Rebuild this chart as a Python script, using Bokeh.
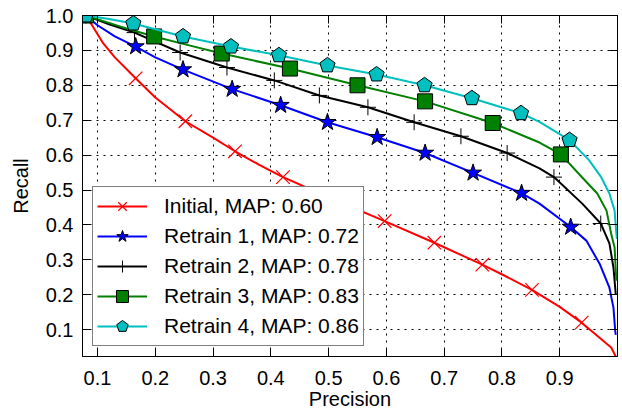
from bokeh.plotting import figure
from bokeh.models import Range1d, LinearAxis, FixedTicker, Legend, LegendItem
from bokeh.embed import file_html
from bokeh.resources import INLINE

# ---- data (precision, recall) ----
x_ticks = [0.1, 0.2, 0.3, 0.4, 0.5, 0.6, 0.7, 0.8, 0.9]
x_tick_labels = ["0.1", "0.2", "0.3", "0.4", "0.5", "0.6", "0.7", "0.8", "0.9"]
y_ticks = [0.1, 0.2, 0.3, 0.4, 0.5, 0.6, 0.7, 0.8, 0.9, 1.0]
y_tick_labels = ["0.1", "0.2", "0.3", "0.4", "0.5", "0.6", "0.7", "0.8", "0.9", "1.0"]

series_labels = ["Initial, MAP: 0.60", "Retrain 1, MAP: 0.72", "Retrain 2, MAP: 0.78",
                 "Retrain 3, MAP: 0.83", "Retrain 4, MAP: 0.86"]

init_p = [0.08, 0.095, 0.11, 0.13, 0.166, 0.2, 0.252, 0.3, 0.338, 0.38, 0.421, 0.51, 0.597,
          0.683, 0.766, 0.81, 0.852, 0.9, 0.938, 0.969, 0.989, 0.998]
init_r = [1.0, 0.96, 0.92, 0.88, 0.82, 0.765, 0.697, 0.65, 0.611, 0.572, 0.537, 0.472, 0.411,
          0.349, 0.286, 0.25, 0.214, 0.165, 0.12, 0.077, 0.049, 0.02]
init_mp = [0.08, 0.166, 0.252, 0.338, 0.421, 0.51, 0.597, 0.683, 0.766, 0.852, 0.938]
init_mr = [1.0, 0.82, 0.697, 0.611, 0.537, 0.472, 0.411, 0.349, 0.286, 0.214, 0.12]

r1_p = [0.08, 0.1, 0.13, 0.166, 0.2, 0.248, 0.333, 0.417, 0.498, 0.584, 0.667, 0.75, 0.834,
        0.865, 0.919, 0.946, 0.969, 0.986, 0.993, 0.996, 0.997]
r1_r = [1.0, 0.972, 0.94, 0.911, 0.88, 0.845, 0.789, 0.743, 0.694, 0.651, 0.606, 0.549, 0.491,
        0.461, 0.394, 0.355, 0.289, 0.22, 0.163, 0.097, 0.085]
r1_mp = [0.08, 0.166, 0.248, 0.333, 0.417, 0.498, 0.584, 0.667, 0.75, 0.834, 0.919]
r1_mr = [1.0, 0.911, 0.845, 0.789, 0.743, 0.694, 0.651, 0.606, 0.549, 0.491, 0.394]

r2_p = [0.08, 0.12, 0.164, 0.243, 0.324, 0.406, 0.484, 0.568, 0.648, 0.729, 0.809, 0.865,
        0.89, 0.939, 0.971, 0.986, 0.993, 0.996, 0.997]
r2_r = [1.0, 0.975, 0.951, 0.894, 0.851, 0.814, 0.771, 0.737, 0.694, 0.654, 0.606, 0.562,
        0.537, 0.461, 0.404, 0.347, 0.278, 0.22, 0.2]
r2_mp = [0.08, 0.164, 0.243, 0.324, 0.406, 0.484, 0.568, 0.648, 0.729, 0.809, 0.89, 0.971]
r2_mr = [1.0, 0.951, 0.894, 0.851, 0.814, 0.771, 0.737, 0.694, 0.654, 0.606, 0.537, 0.404]

r3_p = [0.08, 0.14, 0.198, 0.25, 0.315, 0.433, 0.55, 0.667, 0.784, 0.865, 0.902, 0.939,
        0.965, 0.981, 0.989, 0.995, 0.998]
r3_r = [1.0, 0.968, 0.94, 0.918, 0.891, 0.848, 0.8, 0.754, 0.692, 0.636, 0.602, 0.536,
        0.49, 0.441, 0.375, 0.335, 0.24]
r3_mp = [0.08, 0.198, 0.315, 0.433, 0.55, 0.667, 0.784, 0.902]
r3_mr = [1.0, 0.94, 0.891, 0.848, 0.8, 0.754, 0.692, 0.602]

r4_p = [0.08, 0.12, 0.162, 0.248, 0.331, 0.414, 0.498, 0.583, 0.666, 0.748, 0.833, 0.865,
        0.917, 0.951, 0.972, 0.986, 0.995, 0.998, 0.999]
r4_r = [1.0, 0.99, 0.977, 0.94, 0.911, 0.886, 0.857, 0.831, 0.8, 0.763, 0.72, 0.695,
        0.643, 0.585, 0.536, 0.49, 0.441, 0.375, 0.36]
r4_mp = [0.08, 0.162, 0.248, 0.331, 0.414, 0.498, 0.583, 0.666, 0.748, 0.833, 0.917]
r4_mr = [1.0, 0.977, 0.94, 0.911, 0.886, 0.857, 0.831, 0.8, 0.763, 0.72, 0.643]

FONT = "Liberation Sans"

p = figure(width=622, height=413, x_range=Range1d(0.074, 1.0), y_range=Range1d(0.023, 1.0),
           output_backend="svg", toolbar_location=None,
           min_border_left=82, min_border_top=15, min_border_right=5, min_border_bottom=57)
p.outline_line_color = "black"
p.outline_line_width = 1
p.background_fill_color = "white"

# axes
for ax in (p.xaxis[0], p.yaxis[0]):
    ax.major_tick_in = 8
    ax.major_tick_out = 0
    ax.minor_tick_line_color = None
    ax.axis_line_color = "black"
    ax.major_tick_line_color = "black"
    ax.major_label_text_font = FONT
    ax.major_label_text_font_size = "20px"
    ax.major_label_text_color = "black"
    ax.axis_label_text_font = FONT
    ax.axis_label_text_font_size = "20px"
    ax.axis_label_text_font_style = "normal"
    ax.axis_label_text_color = "black"

p.xaxis[0].ticker = FixedTicker(ticks=x_ticks)
p.xaxis[0].major_label_overrides = dict(zip(x_ticks, x_tick_labels))
p.xaxis[0].axis_label = "Precision"
p.xaxis[0].major_label_standoff = 14
p.xaxis[0].axis_label_standoff = 0

p.yaxis[0].ticker = FixedTicker(ticks=y_ticks)
p.yaxis[0].major_label_overrides = dict(zip(y_ticks, y_tick_labels))
p.yaxis[0].axis_label = "Recall"
p.yaxis[0].major_label_standoff = 9
p.yaxis[0].axis_label_standoff = 11

# mirrored tick marks on top and right (no labels)
top = LinearAxis(ticker=FixedTicker(ticks=x_ticks), major_label_text_font_size="1px",
                 major_label_text_color=None,
                 major_tick_in=8, major_tick_out=0, major_label_standoff=0,
                 minor_tick_line_color=None, axis_line_color="black")
right = LinearAxis(ticker=FixedTicker(ticks=y_ticks), major_label_text_font_size="1px",
                   major_label_text_color=None,
                   major_tick_in=8, major_tick_out=0, major_label_standoff=0,
                   minor_tick_line_color=None, axis_line_color="black")
p.add_layout(top, "above")
p.add_layout(right, "right")

p.xgrid.ticker = FixedTicker(ticks=x_ticks)
p.ygrid.ticker = FixedTicker(ticks=y_ticks)
for g in (p.xgrid[0], p.ygrid[0]):
    g.grid_line_color = "black"
    g.grid_line_dash = "2 5"
    g.grid_line_width = 1

LW = 2
red, blue, green, cyan = "#ff0000", "#0000ff", "#008000", "#00bfbf"

l0 = p.line(init_p, init_r, line_color=red, line_width=LW)
m0 = p.scatter(init_mp, init_mr, marker="x", size=19, line_color=red, line_width=1.2)
l1 = p.line(r1_p, r1_r, line_color=blue, line_width=LW)
m1 = p.scatter(r1_mp, r1_mr, marker="star", size=18, fill_color=blue, line_color="black", line_width=1)
l2 = p.line(r2_p, r2_r, line_color="black", line_width=LW)
m2 = p.scatter(r2_mp, r2_mr, marker="cross", size=16, line_color="black", line_width=1)
l3 = p.line(r3_p, r3_r, line_color=green, line_width=LW)
m3 = p.scatter(r3_mp, r3_mr, marker="square", size=15, fill_color=green, line_color="black", line_width=1)
l4 = p.line(r4_p, r4_r, line_color=cyan, line_width=LW)
if hasattr(p, "ngon"):
    m4 = p.ngon(r4_mp, r4_mr, radius=8, radius_units="screen", n=5, angle=0,
                fill_color=cyan, line_color="black", line_width=1)
else:
    m4 = p.scatter(r4_mp, r4_mr, marker="hex", size=15, fill_color=cyan, line_color="black", line_width=1)

items = [LegendItem(label=series_labels[0], renderers=[l0, m0]),
         LegendItem(label=series_labels[1], renderers=[l1, m1]),
         LegendItem(label=series_labels[2], renderers=[l2, m2]),
         LegendItem(label=series_labels[3], renderers=[l3, m3]),
         LegendItem(label=series_labels[4], renderers=[l4, m4])]
legend = Legend(items=items, location=(10, 10), margin=0, padding=4, spacing=0,
                glyph_width=50, glyph_height=30, label_height=30, label_standoff=17,
                label_text_font=FONT, label_text_font_size="21px", label_text_color="black",
                border_line_color="black", border_line_width=1,
                background_fill_color="white", background_fill_alpha=1.0)
p.add_layout(legend)

open("out.html", "w").write(file_html(p, INLINE))
